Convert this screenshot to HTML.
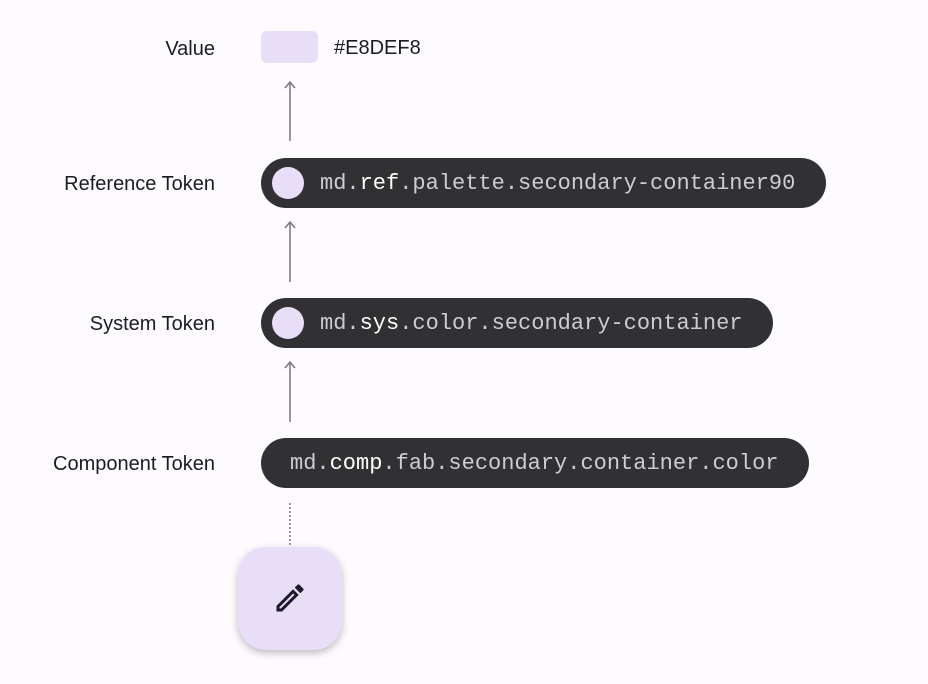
<!DOCTYPE html>
<html><head><style>
body{margin:0;width:928px;height:684px;background:#fdfbfe;position:relative;overflow:hidden;font-family:"Liberation Sans",sans-serif}
.lbl{position:absolute;right:713px;font-size:20px;color:#1c1b1f;line-height:24px;white-space:nowrap}
.pill{position:absolute;left:261px;height:50px;border-radius:25px;background:#313033;}
.pill .c{position:absolute;left:11px;top:9px;width:32px;height:32px;border-radius:50%;background:#e8def8}
.pill .t{position:absolute;top:1px;line-height:50px;font-family:"Liberation Mono",monospace;font-size:22px;color:#cfcbd4;white-space:nowrap}
.pill b{color:#fff;font-weight:normal}
</style></head><body>
<div class="lbl" style="top:37px">Value</div>
<div class="lbl" style="top:172px">Reference Token</div>
<div class="lbl" style="top:312px">System Token</div>
<div class="lbl" style="top:452px">Component Token</div>
<div style="position:absolute;left:261px;top:31px;width:57px;height:32px;border-radius:6px;background:#e8def8"></div>
<div style="position:absolute;left:334px;top:37px;font-size:20px;color:#1c1b1f">#E8DEF8</div>
<svg style="position:absolute;left:0;top:0" width="928" height="684">
<g stroke="#79747e" stroke-width="1.5" fill="none">
<line x1="290" y1="82" x2="290" y2="141"/><polyline points="285,88 290,82 295,88"/>
<line x1="290" y1="222" x2="290" y2="282"/><polyline points="285,228 290,222 295,228"/>
<line x1="290" y1="362" x2="290" y2="422"/><polyline points="285,368 290,362 295,368"/>
<line x1="290" y1="503" x2="290" y2="547" stroke-dasharray="2,2"/>
</g></svg>
<div class="pill" style="top:158px;width:565px"><div class="c"></div><div class="t" style="left:59px">md.<b>ref</b>.palette.secondary-container90</div></div>
<div class="pill" style="top:298px;width:512px"><div class="c"></div><div class="t" style="left:59px">md.<b>sys</b>.color.secondary-container</div></div>
<div class="pill" style="top:438px;width:548px"><div class="t" style="left:29px">md.<b>comp</b>.fab.secondary.container.color</div></div>
<div style="position:absolute;left:238px;top:547px;width:104px;height:103px;border-radius:28px;background:#e8def8;box-shadow:0 3px 8px rgba(0,0,0,0.25)"></div>
<svg style="position:absolute;left:272px;top:580px" width="36" height="36" viewBox="0 0 24 24"><path fill="#1d192b" d="M3 17.25V21h3.75L17.81 9.94l-3.75-3.75L3 17.25zM5.92 19H5v-.92l9.06-9.06.92.92L5.92 19zM20.71 5.63l-2.34-2.34a1 1 0 0 0-1.41 0l-1.83 1.83 3.75 3.75 1.83-1.83a1 1 0 0 0 0-1.41z"/></svg>
</body></html>
